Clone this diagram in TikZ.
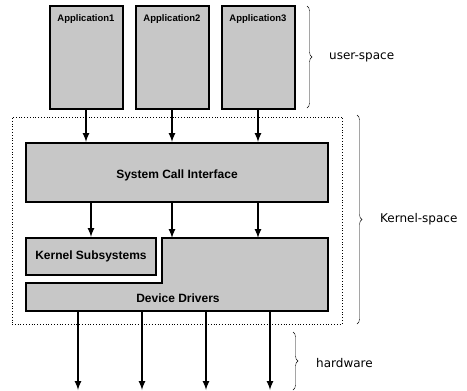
\documentclass[tikz,border=0pt]{standalone}
\usepackage{fontspec}
\setmainfont{Liberation Sans}
\newfontfamily\sidefont{DejaVu Sans}
\usetikzlibrary{arrows,decorations.pathreplacing}

\begin{document}
\begin{tikzpicture}[x=1pt,y=-1pt]
\tikzstyle{app} = [rectangle, draw=black, line width=2pt, fill=black!22,
minimum width=73pt, minimum height=103pt, inner sep=0pt]
\tikzstyle{block} = [rectangle, draw=black, line width=2pt, fill=black!22,
inner sep=0pt]
\tikzstyle{apptext} = [anchor=north, font=\bfseries\fontsize{9.5}{10}\selectfont, inner sep=0pt]
\tikzstyle{blocktext} = [font=\bfseries\fontsize{12}{14}\selectfont, inner sep=0pt]
\tikzstyle{side} = [anchor=west, font=\sidefont\fontsize{12}{14}\selectfont, inner sep=0pt]
\tikzstyle{line} = [draw, line width=2pt, >=latex, ->]
\tikzstyle{brace} = [draw, thin, decorate, decoration={brace, amplitude=5pt}]
\useasboundingbox (0,0) rectangle (467,391);

% kernel area
\node [rectangle, draw=black, dotted, thick, minimum width=330pt, minimum height=207pt,
inner sep=0pt] (kernel) at (177,220.5) {};

% user-space
\node [app] (app1) at (86,57.5) {};
\node [app] (app2) at (172,57.5) {};
\node [app] (app3) at (258,57.5) {};
\node [apptext] (app1txt) at ([yshift=-9pt]app1.north) {Application1};
\node [apptext] (app2txt) at ([yshift=-9pt]app2.north) {Application2};
\node [apptext] (app3txt) at ([yshift=-9pt]app3.north) {Application3};

% kernel-space
\node [block, minimum width=302pt, minimum height=59pt] (sci) at (177,172.5) {};
\node [blocktext] (scitxt) at (177,175) {System Call Interface};
\node [block, minimum width=130pt, minimum height=37pt] (ks) at (91,256.5) {};
\node [blocktext] (kstxt) at (ks) {Kernel Subsystems};
\draw [line width=2pt, fill=black!22] (162,283) -- (162,238) -- (328,238)
  -- (328,311) -- (26,311) -- (26,283) -- cycle;
\coordinate (ddtop) at (245,238);
\coordinate (ddbot) at (177,311);
\node [blocktext] (ddtxt) at (178,298) {Device Drivers};
\coordinate (hw) at (177,390);

\path [line] (app1.south) -- (app1.south |- sci.north);
\path [line] (app2.south) -- (app2.south |- sci.north);
\path [line] (app3.south) -- (app3.south |- sci.north);
\path [line] (sci.south -| ks.north) -- (ks.north);
\path [line] (sci.south -| app2) -- (ddtop -| app2);
\path [line] (sci.south -| app3) -- (ddtop -| app3);
\foreach \x in {78,142,206,270}
  \path [line] (\x,0 |- ddbot) -- (\x,0 |- hw);

% braces
\coordinate (ua) at (307,6);
\coordinate (ub) at (307,108);
\coordinate (ka) at (357,115);
\coordinate (kb) at (357,324);
\coordinate (ha) at (293,332);
\coordinate (hb) at (293,390);
\path [brace] (ua) -- (ub);
\path [brace] (ka) -- (kb);
\path [brace] (ha) -- (hb);
\node [side] (user) at (329,57) {user-space};
\node [side] (kern) at (380,219) {Kernel-space};
\node [side] (hard) at (316,363) {hardware};
\end{tikzpicture}
\end{document}
